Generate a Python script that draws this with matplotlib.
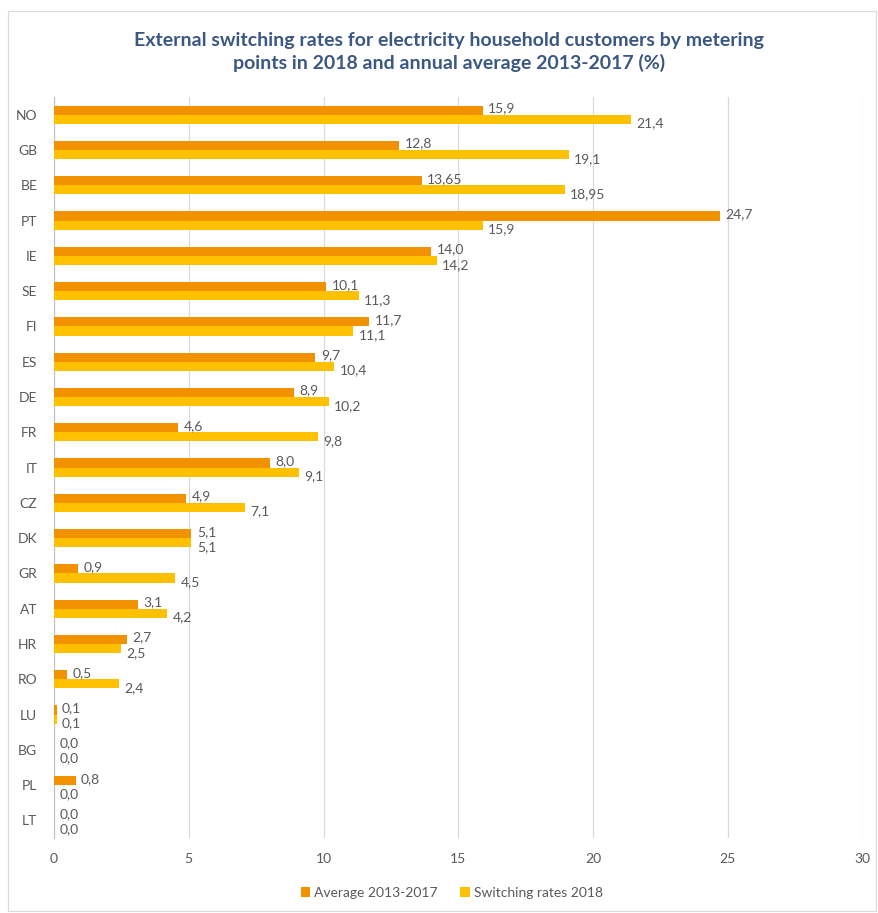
import numpy as np
import matplotlib.pyplot as plt

countries = ['NO', 'GB', 'BE', 'PT', 'IE', 'SE', 'FI', 'ES', 'DE', 'FR', 'IT',
             'CZ', 'DK', 'GR', 'AT', 'HR', 'RO', 'LU', 'BG', 'PL', 'LT']
avg_2013_2017 = [15.9, 12.8, 13.65, 24.7, 14.0, 10.1, 11.7, 9.7, 8.9, 4.6, 8.0,
                 4.9, 5.1, 0.9, 3.1, 2.7, 0.5, 0.1, 0.0, 0.8, 0.0]
rates_2018 = [21.4, 19.1, 18.95, 15.9, 14.2, 11.3, 11.1, 10.4, 10.2, 9.8, 9.1,
              7.1, 5.1, 4.5, 4.2, 2.5, 2.4, 0.1, 0.0, 0.0, 0.0]
avg_labels = ['15,9', '12,8', '13,65', '24,7', '14,0', '10,1', '11,7', '9,7', '8,9',
              '4,6', '8,0', '4,9', '5,1', '0,9', '3,1', '2,7', '0,5', '0,1', '0,0',
              '0,8', '0,0']
rate_labels = ['21,4', '19,1', '18,95', '15,9', '14,2', '11,3', '11,1', '10,4', '10,2',
               '9,8', '9,1', '7,1', '5,1', '4,5', '4,2', '2,5', '2,4', '0,1', '0,0',
               '0,0', '0,0']

orange = '#F39200'
yellow = '#FFC000'
grey_text = '#595959'

plt.rcParams['font.family'] = ['Lato', 'DejaVu Sans']

fig = plt.figure(figsize=(8.79, 9.13), dpi=100)
ax = fig.add_axes([0.0614, 0.0821, 0.920, 0.8116])

y = np.arange(len(countries))
h = 0.26
ax.barh(y - h / 2, avg_2013_2017, height=h, color=orange, label='Average 2013-2017', zorder=3)
ax.barh(y + h / 2, rates_2018, height=h, color=yellow, label='Switching rates 2018', zorder=3)

for i in range(len(countries)):
    ax.text(avg_2013_2017[i] + 0.2, y[i] - h / 2 - 0.05, avg_labels[i], va='center',
            ha='left', fontsize=10, color=grey_text, zorder=4)
    ax.text(rates_2018[i] + 0.2, y[i] + h / 2 + 0.12, rate_labels[i], va='center',
            ha='left', fontsize=10, color=grey_text, zorder=4)

ax.set_ylim(len(countries) - 0.5, -0.5)
ax.set_xlim(0, 30)
ax.set_xticks(range(0, 31, 5))
ax.set_yticks(y)
ax.set_yticklabels(countries)
ax.tick_params(axis='both', length=0, labelsize=10, colors=grey_text)
ax.tick_params(axis='x', pad=11)
ax.tick_params(axis='y', pad=12)
ax.grid(axis='x', color='#D9D9D9', linewidth=0.9, zorder=0)
for s in ['top', 'right', 'bottom']:
    ax.spines[s].set_visible(False)
ax.spines['left'].set_color('#BFBFBF')

fig.text(0.511, 0.943, 'External switching rates for electricity household customers by metering\n'
         'points in 2018 and annual average 2013-2017 (%)', ha='center', va='center',
         fontsize=14, fontweight='bold', color='#3B5783', linespacing=1.35)

fig.legend(loc='center', bbox_to_anchor=(0.514, 0.022), ncol=2, frameon=False,
           fontsize=10, handlelength=0.7, handleheight=0.7, handletextpad=0.3,
           columnspacing=1.6, labelcolor=grey_text)

# light frame around the chart
fig.patches.append(plt.Rectangle((0.009, 0.002), 0.988, 0.986, transform=fig.transFigure,
                                 fill=False, edgecolor='#D9D9D9', linewidth=0.8))

fig.savefig('out.png', dpi=100)
